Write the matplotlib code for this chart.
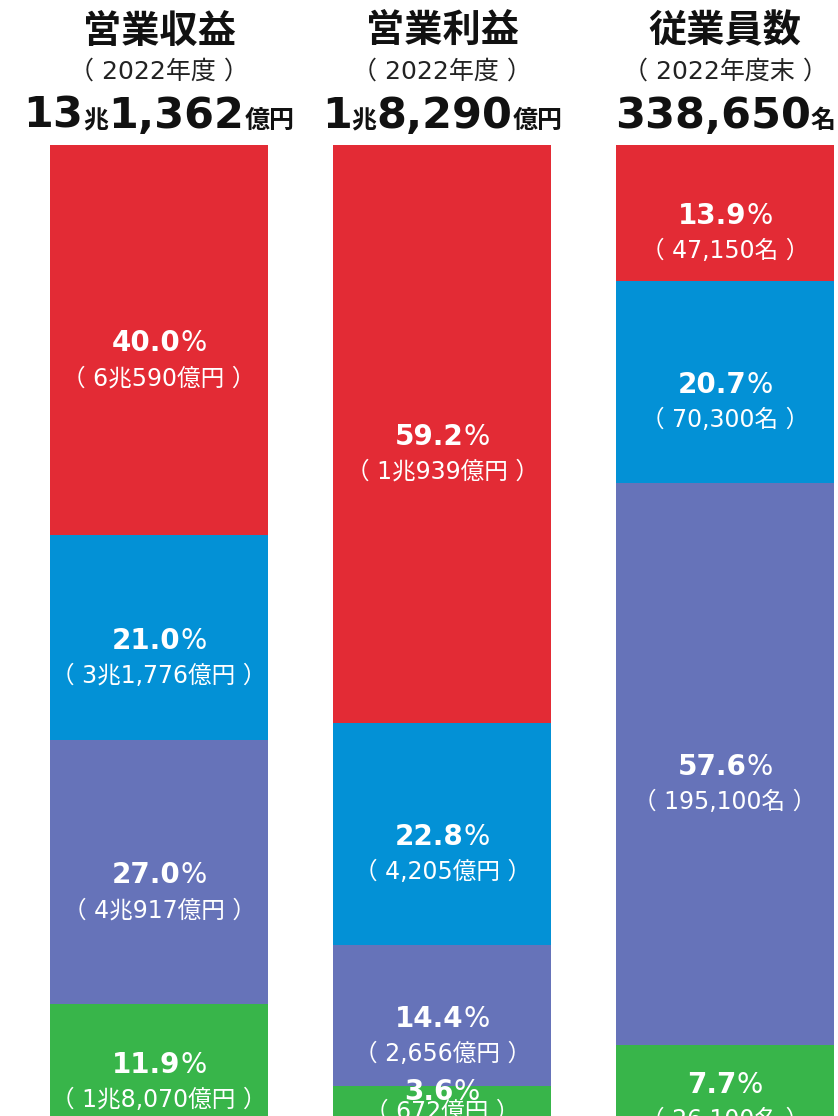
import re
import matplotlib
matplotlib.use('Agg')
import matplotlib.pyplot as plt
from matplotlib.font_manager import FontProperties
from matplotlib.transforms import IdentityTransform

# ---------------- data ----------------
titles = ['営業収益', '営業利益', '従業員数']
periods = ['（2022年度）', '（2022年度）', '（2022年度末）']
totals = ['13兆1,362億円', '1兆8,290億円', '338,650名']

share_seg1 = [40.0, 59.2, 13.9]
share_seg2 = [21.0, 22.8, 20.7]
share_seg3 = [27.0, 14.4, 57.6]
share_seg4 = [11.9, 3.6, 7.7]

amount_seg1 = ['6兆590億円', '1兆939億円', '47,150名']
amount_seg2 = ['3兆1,776億円', '4,205億円', '70,300名']
amount_seg3 = ['4兆917億円', '2,656億円', '195,100名']
amount_seg4 = ['1兆8,070億円', '672億円', '26,100名']

colors = ['#E32B35', '#0391D6', '#6673B9', '#38B54A']

# ---------------- figure ----------------
W, H = 838, 1116
fig = plt.figure(figsize=(W / 100, H / 100), dpi=100)
top_px, bot_px = 145, 1121
ax = fig.add_axes([0, (H - bot_px) / H, 1, (bot_px - top_px) / H])
ax.set_xlim(-0.562, 2.399)
ax.set_ylim(100, 0)
ax.axis('off')

xs = range(len(titles))
segs = [share_seg1, share_seg2, share_seg3, share_seg4]
amts = [amount_seg1, amount_seg2, amount_seg3, amount_seg4]
bottoms = [0.0] * len(titles)
for vals, col in zip(segs, colors):
    ax.bar(xs, vals, bottom=bottoms, width=0.77, color=col, edgecolor='none')
    bottoms = [b + v for b, v in zip(bottoms, vals)]

renderer = fig.canvas.get_renderer()
CJK = 'Noto Sans CJK JP'
LAB = ['DejaVu Sans', 'Noto Sans CJK JP']


def rich(xc, yb, pieces, color):
    texts = []
    for s, fp in pieces:
        t = fig.text(0, 0, s, fontproperties=fp, color=color, va='baseline',
                     ha='left', transform=IdentityTransform())
        texts.append(t)
    widths = [t.get_window_extent(renderer).width for t in texts]
    x = xc - sum(widths) / 2
    for t, w in zip(texts, widths):
        t.set_position((x, yb))
        x += w


def spaced(s):
    return s.replace('（', '（ ').replace('）', ' ）')


fp_title = FontProperties(family=CJK, weight='bold', size=27.5)
fp_period = FontProperties(family=LAB, weight='normal', size=18)
fp_big = FontProperties(family=LAB, weight='bold', size=31)
fp_small = FontProperties(family=CJK, weight='bold', size=18)
fp_pct_b = FontProperties(family=LAB, weight='bold', size=20)
fp_pct_n = FontProperties(family=LAB, weight='normal', size=20)
fp_amt = FontProperties(family=LAB, weight='normal', size=17)

for i in xs:
    xc = ax.transData.transform((i, 0))[0]
    fig.text(xc / W, 1 - 31 / H, titles[i], fontproperties=fp_title,
             ha='center', va='center', color='#111111')
    rich(xc, H - 79, [(spaced(periods[i]), fp_period)], '#222222')
    parts = re.findall(r'[0-9,]+|[^0-9,]+', totals[i])
    pieces = [(p, fp_big if re.match(r'[0-9,]', p) else fp_small) for p in parts]
    rich(xc, H - 128, pieces, '#111111')

    start = 0.0
    for vals, labs in zip(segs, amts):
        v = vals[i]
        mid = start + v / 2
        yc = ax.transData.transform((i, mid))[1]
        seg_px = abs(ax.transData.transform((i, start))[1] -
                     ax.transData.transform((i, start + v))[1])
        gap = min(34, seg_px * 0.55)
        y1 = yc - 11 if gap >= 34 else yc + gap / 2 - 6
        rich(xc, y1, [(f'{v:.1f}', fp_pct_b), ('%', fp_pct_n)], 'white')
        rich(xc, y1 - gap, [(spaced('（' + labs[i] + '）'), fp_amt)], 'white')
        start += v

fig.savefig('out.png', dpi=100)
